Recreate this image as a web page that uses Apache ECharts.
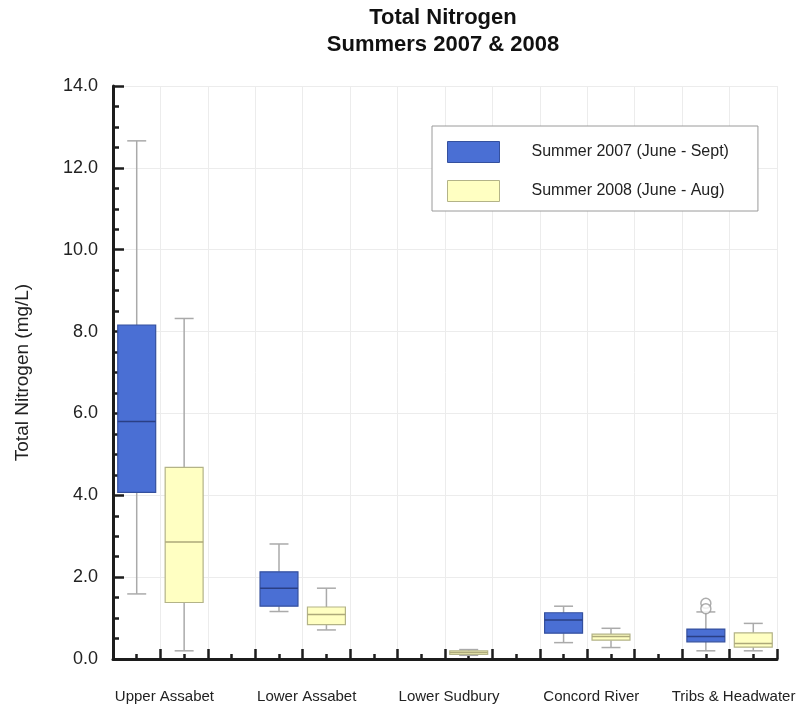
<!DOCTYPE html>
<html>
<head>
<meta charset="utf-8">
<script src="https://cdn.jsdelivr.net/npm/echarts@6/dist/echarts.min.js"></script>
<style>
html,body{margin:0;padding:0;background:#fff;}
#chart{width:800px;height:710px;}
</style>
</head>
<body>
<div id="chart"></div>
<script>
// ---- Data ----
const categories = ['Upper Assabet', 'Lower Assabet', 'Lower Sudbury', 'Concord River', 'Tribs & Headwater'];
// [min, Q1, median, Q3, max]  (mg/L)
const summer2007 = [
  [1.59, 4.07, 5.80, 8.16, 12.66],
  [1.16, 1.29, 1.73, 2.13, 2.81],
  null,
  [0.40, 0.63, 0.95, 1.13, 1.29],
  [0.20, 0.42, 0.55, 0.73, 1.15]
];
const summer2008 = [
  [0.20, 1.38, 2.86, 4.68, 8.32],
  [0.71, 0.84, 1.09, 1.27, 1.73],
  [0.09, 0.115, 0.16, 0.20, 0.23],
  [0.28, 0.46, 0.55, 0.61, 0.75],
  [0.20, 0.29, 0.38, 0.64, 0.87]
];
// outliers: [category index, value]
const outliers2007 = [[4, 1.36], [4, 1.23]];
const seriesNames = ['Summer 2007 (June - Sept)', 'Summer 2008 (June - Aug)'];

// ---- Layout helpers: each category takes 3 slots (2007, 2008, gap) ----
const SLOTS = 14;
const slotOf = (ci, k) => ci * 3 + k + 0.5;
const labelAt = {};
categories.forEach((c, i) => { labelAt[i * 3 + 1] = c; });

const FONT = "'Liberation Sans', Arial, Helvetica, sans-serif";
const AXIS_COLOR = '#1c1c1c';

const styles = [
  { fill: '#4a6fd4', stroke: '#34509e', median: '#2a3f85' },
  { fill: '#ffffc2', stroke: '#b3b388', median: '#ada97a' }
];
const WHISKER = '#aaaaaa';

function makeRender(st) {
  return function (params, api) {
    const x = api.value(0);
    const v = [1, 2, 3, 4, 5].map(d => api.value(d));
    const band = api.size([1, 0])[0];
    const half = band * 0.4;
    const capHalf = band * 0.2;
    const p = v.map(val => api.coord([x, val]));
    const cx = p[0][0];
    const line = (x1, y1, x2, y2, color, w) => ({
      type: 'line', shape: { x1, y1, x2, y2 }, style: { stroke: color, lineWidth: w }
    });
    return {
      type: 'group',
      children: [
        line(cx, p[4][1], cx, p[3][1], WHISKER, 1.5),
        line(cx, p[1][1], cx, p[0][1], WHISKER, 1.5),
        line(cx - capHalf, p[4][1], cx + capHalf, p[4][1], WHISKER, 1.5),
        line(cx - capHalf, p[0][1], cx + capHalf, p[0][1], WHISKER, 1.5),
        {
          type: 'rect',
          shape: { x: cx - half, y: p[3][1], width: half * 2, height: p[1][1] - p[3][1] },
          style: { fill: st.fill, stroke: st.stroke, lineWidth: 1.2 }
        },
        line(cx - half, p[2][1], cx + half, p[2][1], st.median, 1.5)
      ]
    };
  };
}

function boxData(arr, k) {
  const out = [];
  arr.forEach((v, i) => { if (v) out.push([slotOf(i, k)].concat(v)); });
  return out;
}

const chart = echarts.init(document.getElementById('chart'), null, { renderer: 'canvas' });
chart.setOption({
  backgroundColor: '#ffffff',
  animation: false,
  textStyle: { fontFamily: FONT },
  title: {
    text: 'Total Nitrogen\nSummers 2007 & 2008',
    left: 443,
    top: 4,
    padding: 0,
    textAlign: 'center',
    textStyle: { fontFamily: FONT, fontSize: 22, fontWeight: 'bold', color: '#111', lineHeight: 27 }
  },
  legend: {
    orient: 'vertical',
    left: 432,
    top: 126,
    padding: [15, 29, 9, 15],
    itemWidth: 52,
    itemHeight: 21,
    itemGap: 17,
    borderColor: '#9a9a9a',
    borderWidth: 1,
    backgroundColor: '#fff',
    selectedMode: false,
    textStyle: { fontFamily: FONT, fontSize: 16, color: '#222', padding: [0, 0, 0, 27] },
    data: [
      { name: seriesNames[0], icon: 'rect', itemStyle: { color: styles[0].fill, borderColor: styles[0].stroke, borderWidth: 1 } },
      { name: seriesNames[1], icon: 'rect', itemStyle: { color: styles[1].fill, borderColor: styles[1].stroke, borderWidth: 1 } }
    ]
  },
  grid: { left: 113, right: 23, top: 86, bottom: 51, containLabel: false },
  xAxis: {
    type: 'value',
    min: 0,
    max: SLOTS,
    interval: 1,
    axisLine: { show: true, onZero: false, lineStyle: { color: AXIS_COLOR, width: 3 } },
    axisTick: { show: true, inside: true, length: 10, lineStyle: { color: AXIS_COLOR, width: 2.5 } },
    minorTick: { show: true, splitNumber: 2, length: 5, lineStyle: { color: AXIS_COLOR, width: 2.5 } },
    splitLine: { show: true, lineStyle: { color: '#ececec', width: 1 } },
    minorSplitLine: { show: false },
    axisLabel: {
      show: true,
      margin: 30,
      fontSize: 15,
      color: '#222',
      fontFamily: FONT,
      padding: [0, 0, 0, 8],
      showMinLabel: true,
      showMaxLabel: true,
      formatter: v => labelAt[Math.round(v)] || ''
    }
  },
  yAxis: {
    type: 'value',
    min: 0,
    max: 14,
    interval: 2,
    name: 'Total Nitrogen (mg/L)',
    nameLocation: 'middle',
    nameGap: 81,
    nameTextStyle: { fontFamily: FONT, fontSize: 19, color: '#222' },
    axisLine: { show: true, lineStyle: { color: AXIS_COLOR, width: 3 } },
    axisTick: { show: true, inside: true, length: 11, lineStyle: { color: AXIS_COLOR, width: 2.5 } },
    minorTick: { show: true, splitNumber: 4, length: 6, lineStyle: { color: AXIS_COLOR, width: 2.5 } },
    splitLine: { show: true, lineStyle: { color: '#ececec', width: 1 } },
    minorSplitLine: { show: false },
    axisLabel: { margin: 15, fontSize: 18, color: '#222', fontFamily: FONT, formatter: v => v.toFixed(1) }
  },
  series: [
    {
      name: seriesNames[0],
      type: 'custom',
      renderItem: makeRender(styles[0]),
      encode: { x: 0, y: [1, 2, 3, 4, 5] },
      itemStyle: { color: styles[0].fill, borderColor: styles[0].stroke },
      data: boxData(summer2007, 0),
      z: 3
    },
    {
      name: seriesNames[1],
      type: 'custom',
      renderItem: makeRender(styles[1]),
      encode: { x: 0, y: [1, 2, 3, 4, 5] },
      itemStyle: { color: styles[1].fill, borderColor: styles[1].stroke },
      data: boxData(summer2008, 1),
      z: 3
    },
    {
      name: 'outliers',
      type: 'scatter',
      symbol: 'circle',
      symbolSize: 10,
      itemStyle: { color: '#ffffff', borderColor: '#999999', borderWidth: 1.5 },
      data: outliers2007.map(o => [slotOf(o[0], 0), o[1]]),
      z: 4
    }
  ]
});
</script>
</body>
</html>
